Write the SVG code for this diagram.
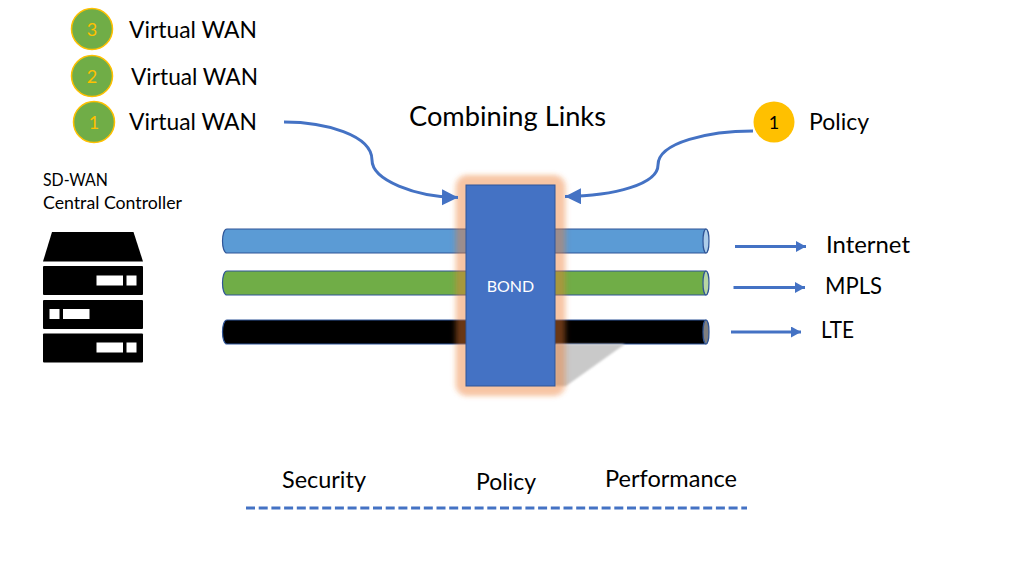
<svg xmlns="http://www.w3.org/2000/svg" width="1024" height="576" viewBox="0 0 1024 576">
<style>
text{font-family:Lato,"Open Sans",sans-serif;fill:#000}
.l{font-size:24px}
.m{font-size:17.500px}
.n{font-size:18px;fill:#ffc000;text-anchor:middle}
.c{fill:#70ad47;stroke:#ffc000;stroke-width:1.5}
.tb{stroke:#2f5597;stroke-width:1.2}
.e{stroke:#2f5597;stroke-width:1.2}
.cv{fill:none;stroke:#4472c4;stroke-width:3}
.ar{fill:none;stroke:#4472c4;stroke-width:3}
.w{fill:#fff}
</style>
<defs>
<marker id="big" markerUnits="userSpaceOnUse" markerWidth="18" markerHeight="18" refX="16" refY="8" orient="auto"><path d="M0 0L16 8L0 16Z" fill="#4472c4"/></marker>
<marker id="sm" markerUnits="userSpaceOnUse" markerWidth="11" markerHeight="12" refX="10" refY="5.500" orient="auto"><path d="M0 0L10 5.500L0 11Z" fill="#4472c4"/></marker>
<filter id="gl" x="-30%" y="-20%" width="160%" height="140%"><feGaussianBlur stdDeviation="2"/></filter>
<filter id="sh" x="-20%" y="-20%" width="140%" height="140%"><feGaussianBlur stdDeviation="1"/></filter>
</defs>
<g id="controller-label"><text class="m" x="43" y="186" textLength="65" lengthAdjust="spacingAndGlyphs">SD-WAN</text><text class="m" x="43" y="209" textLength="139" lengthAdjust="spacingAndGlyphs">Central Controller</text></g>
<g id="server">
<path d="M52 232H133.500L143 261.500H43Z" fill="#000"/>
<rect x="43" y="266" width="100" height="29" rx="1"/>
<rect class="w" x="96.500" y="275.500" width="26.500" height="10"/><rect class="w" x="126.500" y="275.500" width="10" height="10"/>
<rect x="43" y="300" width="100" height="29" rx="1"/>
<rect class="w" x="49.500" y="309" width="10" height="10"/><rect class="w" x="63" y="309" width="26.500" height="10"/>
<rect x="43" y="333.500" width="100" height="29" rx="1"/>
<rect class="w" x="96.500" y="342.500" width="26.500" height="10"/><rect class="w" x="126.500" y="342.500" width="10" height="10"/>
</g>
<g id="vwan3"><circle class="c" cx="92" cy="29" r="20.500"/><text class="n" x="92" y="36">3</text><text class="l" x="129" y="38" textLength="128" lengthAdjust="spacingAndGlyphs">Virtual WAN</text></g>
<g id="vwan2"><circle class="c" cx="92" cy="76" r="20.500"/><text class="n" x="92" y="83">2</text><text class="l" x="131" y="85" textLength="127" lengthAdjust="spacingAndGlyphs">Virtual WAN</text></g>
<g id="vwan1"><circle class="c" cx="94" cy="122" r="20.500"/><text class="n" x="94" y="129">1</text><text class="l" x="129" y="130" textLength="128" lengthAdjust="spacingAndGlyphs">Virtual WAN</text></g>
<g id="title"><text x="409" y="126" font-size="27px" textLength="197" lengthAdjust="spacingAndGlyphs">Combining Links</text></g>
<g id="policy-badge"><circle cx="774" cy="122" r="20.500" fill="#ffc000"/><text x="774" y="129" font-size="18px" text-anchor="middle">1</text><text class="l" x="809" y="130" textLength="60" lengthAdjust="spacingAndGlyphs">Policy</text></g>
<g id="tube-internet"><path class="tb" d="M227 229H706C709 233 709 249 706 253H227C221 253 221 229 227 229Z" fill="#5b9bd5"/><ellipse class="e" cx="706" cy="241" rx="3" ry="12" fill="#adcdea"/></g>
<g id="tube-mpls"><path class="tb" d="M227 271H706C709 275 709 291 706 295H227C221 295 221 271 227 271Z" fill="#70ad47"/><ellipse class="e" cx="706" cy="283" rx="3" ry="12" fill="#b7d6a3"/></g>
<g id="tube-lte"><path class="tb" d="M227 320H706C709 324 709 340 706 344H227C221 344 221 320 227 320Z" fill="#000"/><ellipse class="e" cx="706" cy="332" rx="3" ry="12" fill="#7f7f7f"/></g>
<g id="bond">
<path d="M555 344H625L566 386H555Z" fill="#c9c9c9" filter="url(#sh)"/>
<rect x="454" y="174" width="113" height="223" rx="13" fill="#ed7d31" fill-opacity=".2" filter="url(#gl)"/>
<rect x="457" y="176" width="107" height="219" rx="11" fill="#ed7d31" fill-opacity=".3" filter="url(#gl)"/>
<rect x="466" y="185" width="89" height="201" fill="#4472c4" stroke="#2f5597"/>
<text x="510.500" y="292" font-size="16px" text-anchor="middle" style="fill:#fff">BOND</text>
</g>
<g id="connectors">
<path class="cv" d="M284 122C325 122 372 135 372 160C372 180 415 197 458 197.500" marker-end="url(#big)"/>
<path class="cv" d="M753 131C710 131 658 142 658 165C658 184 615 196 565 196.500" marker-end="url(#big)"/>
<path class="ar" d="M735 246.500H806" marker-end="url(#sm)"/>
<path class="ar" d="M733.500 287.500H805" marker-end="url(#sm)"/>
<path class="ar" d="M731 332H801" marker-end="url(#sm)"/>
<path d="M246 508H747" fill="none" stroke="#4472c4" stroke-width="3" stroke-dasharray="9 3.700"/>
</g>
<g id="labels">
<text class="l" x="826" y="253" textLength="84" lengthAdjust="spacingAndGlyphs">Internet</text>
<text class="l" x="825" y="294" textLength="57" lengthAdjust="spacingAndGlyphs">MPLS</text>
<text class="l" x="821" y="338" textLength="33" lengthAdjust="spacingAndGlyphs">LTE</text>
<text class="l" x="282" y="488" textLength="84" lengthAdjust="spacingAndGlyphs">Security</text>
<text class="l" x="476" y="490" textLength="60" lengthAdjust="spacingAndGlyphs">Policy</text>
<text class="l" x="605" y="487" textLength="132" lengthAdjust="spacingAndGlyphs">Performance</text>
</g>
</svg>
